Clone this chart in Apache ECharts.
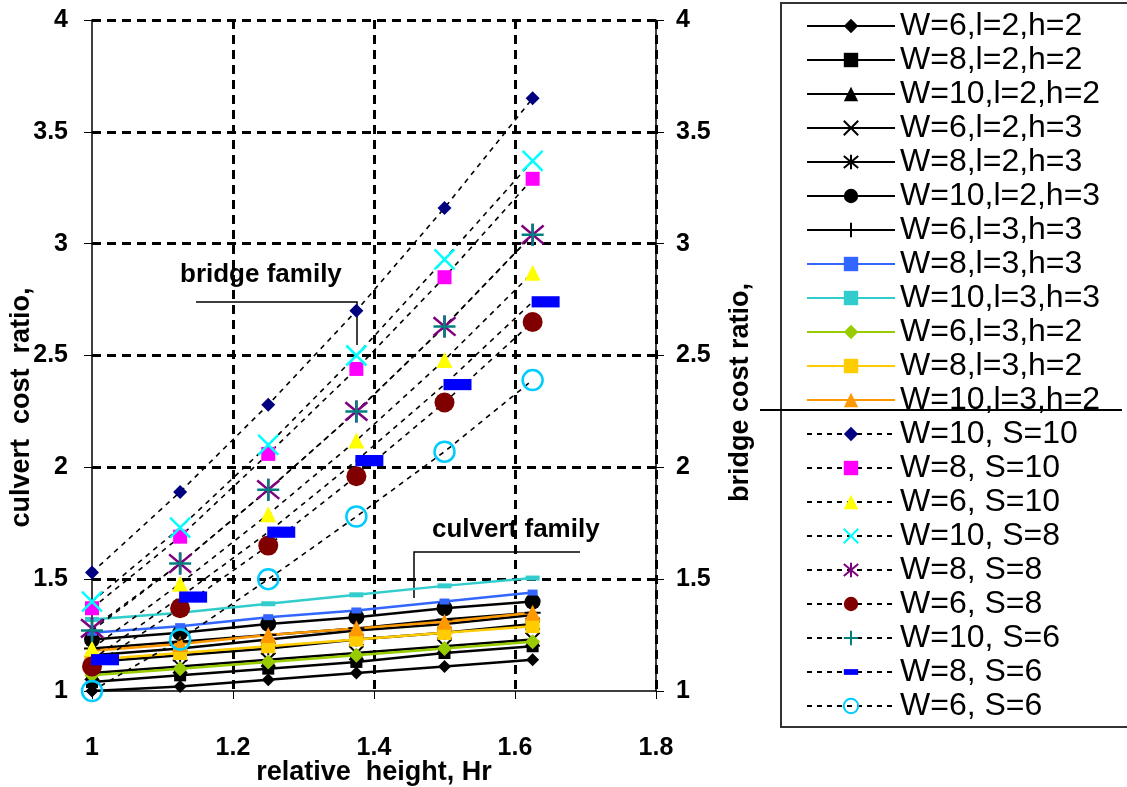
<!DOCTYPE html>
<html lang="en" style="height: 100%">
<head>
  <meta charset="utf-8">
</head>
<body style="height: 100%; margin: 0">
  <div id="container" style="height: 100%"></div>

  <script type="text/javascript" src="https://cdn.jsdelivr.net/npm/echarts@6/dist/echarts.min.js"></script>

  <script type="text/javascript">
    // relative height Hr (x values shared by every series)
    var hr = [1, 1.125, 1.25, 1.375, 1.5, 1.625];

    // culvert family (solid lines)
    var cW6l2h2 = [1.00, 1.02, 1.05, 1.08, 1.11, 1.14];
    var cW8l2h2 = [1.04, 1.07, 1.10, 1.13, 1.17, 1.20];
    var cW10l2h2 = [1.16, 1.19, 1.23, 1.27, 1.30, 1.34];
    var cW6l2h3 = [1.08, 1.11, 1.14, 1.17, 1.20, 1.23];
    var cW8l2h3 = [1.13, 1.16, 1.19, 1.23, 1.26, 1.30];
    var cW10l2h3 = [1.23, 1.26, 1.30, 1.33, 1.37, 1.40];
    var cW6l3h3 = [1.19, 1.22, 1.25, 1.28, 1.32, 1.35];
    var cW8l3h3 = [1.26, 1.29, 1.33, 1.36, 1.40, 1.44];
    var cW10l3h3 = [1.32, 1.35, 1.39, 1.43, 1.47, 1.505];
    var cW6l3h2 = [1.07, 1.10, 1.13, 1.16, 1.19, 1.22];
    var cW8l3h2 = [1.14, 1.17, 1.20, 1.23, 1.26, 1.29];
    var cW10l3h2 = [1.18, 1.21, 1.25, 1.28, 1.31, 1.35];

    // bridge family (dashed lines)
    var bW10S10 = [1.53, 1.89, 2.28, 2.70, 3.16, 3.65];
    var bW8S10 = [1.37, 1.69, 2.06, 2.44, 2.85, 3.29];
    var bW6S10 = [1.19, 1.48, 1.79, 2.12, 2.48, 2.87];
    var bW10S8 = [1.40, 1.73, 2.10, 2.50, 2.93, 3.37];
    var bW8S8 = [1.28, 1.57, 1.90, 2.25, 2.63, 3.04];
    var bW6S8 = [1.11, 1.37, 1.65, 1.96, 2.29, 2.65];
    var bW10S6 = [1.27, 1.57, 1.90, 2.25, 2.63, 3.04];
    var bW8S6 = [1.14, 1.42, 1.71, 2.03, 2.37, 2.74];
    var bW6S6 = [1.00, 1.23, 1.50, 1.78, 2.07, 2.39];

    var yTicks = [1, 1.5, 2, 2.5, 3, 3.5, 4];

    var FONT = "'Liberation Sans', Arial, sans-serif";
    var X_MARK = 'path://M0,0L10,10M10,0L0,10';
    var STAR_MARK = 'path://M0,0L10,10M10,0L0,10M5,-1L5,11';
    var PLUS_MARK = 'path://M5,0L5,10M0,5L10,5';
    var DASH_MARK = 'path://M0,0M0,6L20,6L20,14L0,14ZM20,20';

    function pts(vals) {
      return hr.map(function (x, i) { return [x, vals[i]]; });
    }

    function culvert(name, vals, color, symbol, size, stroke) {
      return {
        name: name, type: 'line', data: pts(vals),
        symbol: symbol, symbolSize: size,
        itemStyle: stroke ? { color: color, borderColor: color, borderWidth: 2 } : { color: color },
        lineStyle: { color: color, width: 2.5 },
        z: 2
      };
    }

    function bridge(name, vals, color, symbol, size, extra) {
      var s = {
        name: name, type: 'line', data: pts(vals),
        symbol: symbol, symbolSize: size,
        itemStyle: { color: color },
        lineStyle: { color: '#000', width: 1.6, type: [5, 5] },
        z: 3
      };
      if (extra) Object.assign(s, extra);
      return s;
    }

    var series = [
      culvert('W=6,l=2,h=2', cW6l2h2, '#000', 'diamond', 13),
      culvert('W=8,l=2,h=2', cW8l2h2, '#000', 'rect', 12),
      culvert('W=10,l=2,h=2', cW10l2h2, '#000', 'triangle', 15),
      culvert('W=6,l=2,h=3', cW6l2h3, '#000', X_MARK, 14, true),
      culvert('W=8,l=2,h=3', cW8l2h3, '#000', STAR_MARK, 14, true),
      culvert('W=10,l=2,h=3', cW10l2h3, '#000', 'circle', 16),
      culvert('W=6,l=3,h=3', cW6l3h3, '#000', PLUS_MARK, 16, true),
      culvert('W=8,l=3,h=3', cW8l3h3, '#3366FF', 'rect', [10, 6]),
      culvert('W=10,l=3,h=3', cW10l3h3, '#33CCCC', 'rect', [14, 5]),
      culvert('W=6,l=3,h=2', cW6l3h2, '#99CC00', 'diamond', 15),
      culvert('W=8,l=3,h=2', cW8l3h2, '#FFCC00', 'rect', 14),
      culvert('W=10,l=3,h=2', cW10l3h2, '#FF9900', 'triangle', 16),
      bridge('W=10, S=10', bW10S10, '#000080', 'diamond', 14),
      bridge('W=8, S=10', bW8S10, '#FF00FF', 'rect', 14),
      bridge('W=6, S=10', bW6S10, '#FFFF00', 'triangle', 16),
      bridge('W=10, S=8', bW10S8, '#00FFFF', X_MARK, 20,
        { itemStyle: { color: '#00FFFF', borderColor: '#00FFFF', borderWidth: 2.5 } }),
      bridge('W=8, S=8', bW8S8, '#800080', STAR_MARK, 22,
        { itemStyle: { color: '#800080', borderColor: '#800080', borderWidth: 2.5 } }),
      bridge('W=6, S=8', bW6S8, '#800000', 'circle', 20),
      bridge('W=10, S=6', bW10S6, '#008080', PLUS_MARK, 22,
        { itemStyle: { color: '#008080', borderColor: '#008080', borderWidth: 2.5 } }),
      bridge('W=8, S=6', bW8S6, '#0000FF', DASH_MARK, 28, { symbolOffset: [13, 0] }),
      bridge('W=6, S=6', bW6S6, '#00CCFF', 'circle', 20,
        { itemStyle: { color: 'rgba(0,0,0,0)', borderColor: '#00CCFF', borderWidth: 2.5 } })
    ];

    var dom = document.getElementById('container');
    var myChart = echarts.init(dom, null, { renderer: 'canvas' });

    var tickLabel = { fontFamily: FONT, fontWeight: 'bold', fontSize: 25, color: '#000' };
    var nameStyle = { fontFamily: FONT, fontWeight: 'bold', fontSize: 27, color: '#000' };
    var gridDash = { color: '#000', width: 3, type: [9, 6] };

    var option = {
      animation: false,
      backgroundColor: '#fff',
      grid: { left: 92, right: 471, top: 20, bottom: 96, outerBoundsMode: 'none', containLabel: false },
      xAxis: {
        type: 'value', min: 1, max: 1.8, interval: 0.2,
        name: 'relative  height, Hr', nameLocation: 'middle', nameGap: 68, nameMoveOverlap: false,
        nameTextStyle: nameStyle,
        axisLine: { lineStyle: { color: '#000', width: 1.5 } },
        axisTick: { length: 8, lineStyle: { color: '#000' } },
        axisLabel: Object.assign({ margin: 45 }, tickLabel),
        splitLine: { show: true, showMinLine: false, lineStyle: gridDash }
      },
      yAxis: [{
        type: 'value', min: yTicks[0], max: yTicks[yTicks.length - 1], interval: 0.5,
        name: 'culvert  cost  ratio,', nameLocation: 'middle', nameGap: 57, nameRotate: 90,
        nameMoveOverlap: false,
        nameTextStyle: Object.assign({ padding: [0, 104, 0, 0] }, nameStyle),
        axisLine: { show: true, lineStyle: { color: '#000', width: 1.5 } },
        axisTick: { show: true, length: 8, lineStyle: { color: '#000' } },
        axisLabel: Object.assign({ margin: 24 }, tickLabel),
        splitLine: { show: true, showMinLine: false, lineStyle: gridDash }
      }, {
        type: 'value', min: yTicks[0], max: yTicks[yTicks.length - 1], interval: 0.5,
        position: 'right',
        name: 'bridge cost ratio,', nameLocation: 'middle', nameGap: 71, nameRotate: 90,
        nameMoveOverlap: false,
        nameTextStyle: Object.assign({ padding: [0, 74, 0, 0] }, nameStyle),
        axisLine: { show: true, lineStyle: { color: '#000', width: 1.5 } },
        axisTick: { show: true, length: 8, lineStyle: { color: '#000' } },
        axisLabel: Object.assign({ margin: 20 }, tickLabel),
        splitLine: { show: false }
      }],
      legend: {
        orient: 'vertical', left: 801, top: 4,
        itemWidth: 88, itemHeight: 18, itemGap: 0,
        textStyle: { fontFamily: FONT, fontSize: 32, lineHeight: 34, color: '#000' },
        data: series.map(function (s) { return s.name; })
      },
      graphic: [
        { type: 'rect', shape: { x: 781, y: 3, width: 360, height: 724 },
          style: { fill: 'none', stroke: '#333', lineWidth: 2 }, z: 0 },
        { type: 'line', shape: { x1: 760, y1: 410, x2: 1122, y2: 410 },
          style: { stroke: '#000', lineWidth: 2 }, z: 10 },
        { type: 'text', left: 180, top: 262,
          style: { text: 'bridge family', fontFamily: FONT, fontWeight: 'bold', fontSize: 26, fill: '#000' } },
        { type: 'polyline', shape: { points: [[196, 302], [357, 302], [357, 345]] },
          style: { stroke: '#000', lineWidth: 1.5, fill: 'none' } },
        { type: 'text', left: 432, top: 517,
          style: { text: 'culvert family', fontFamily: FONT, fontWeight: 'bold', fontSize: 26, fill: '#000' } },
        { type: 'polyline', shape: { points: [[580, 552], [414, 552], [414, 598]] },
          style: { stroke: '#000', lineWidth: 1.5, fill: 'none' } }
      ],
      series: series
    };

    myChart.setOption(option);

    window.addEventListener('resize', function () {
      myChart.resize();
    });
  </script>
</body>
</html>
